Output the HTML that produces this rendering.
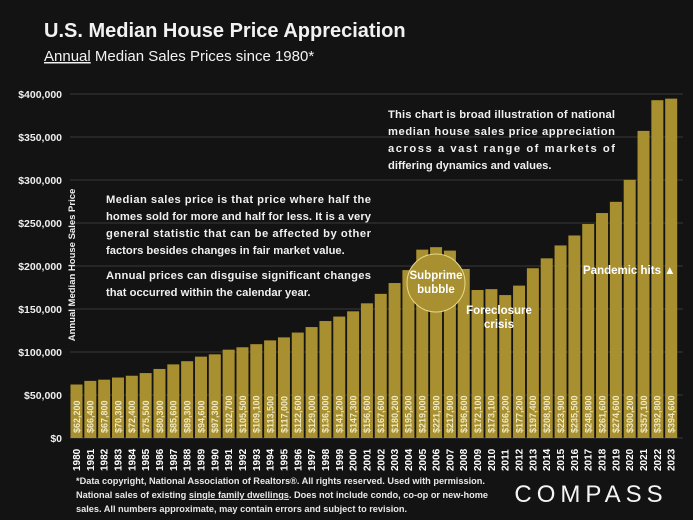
<!DOCTYPE html>
<html><head><meta charset="utf-8"><style>
body{margin:0;background:#141313;}
svg{display:block;font-family:"Liberation Sans",sans-serif;}
</style></head><body>
<svg id="c" width="693" height="520" viewBox="0 0 693 520">
<rect width="693" height="520" fill="#141313"/>
<text x="44" y="37" fill="#f2f2f2" font-size="20" font-weight="bold">U.S. Median House Price Appreciation</text>
<text x="44" y="61" fill="#f2f2f2" font-size="15"><tspan text-decoration="underline">Annual</tspan> Median Sales Prices since 1980*</text>
<g id="grid"></g>
<g id="bars"></g>
<text transform="translate(75,265) rotate(-90)" text-anchor="middle" fill="#eee" font-size="9.5" font-weight="bold">Annual Median House Sales Price</text>
<g fill="#f0f0f0" font-size="11.2" font-weight="bold">
<text x="106" y="203" textLength="265">Median sales price is that price where half the</text>
<text x="106" y="220" textLength="265">homes sold for more and half for less. It is a very</text>
<text x="106" y="237" textLength="265">general statistic that can be affected by other</text>
<text x="106" y="254">factors besides changes in fair market value.</text>
<text x="106" y="279" textLength="265">Annual prices can disguise significant changes</text>
<text x="106" y="296">that occurred within the calendar year.</text>
</g>
<g fill="#f0f0f0" font-size="11.2" font-weight="bold">
<text x="388" y="118" textLength="227">This chart is broad illustration of national</text>
<text x="388" y="135" textLength="227">median house sales price appreciation</text>
<text x="388" y="152" textLength="227">across a vast range of markets of</text>
<text x="388" y="169">differing dynamics and values.</text>
</g>
<circle cx="436" cy="283" r="29" fill="#a89030" stroke="#e8d98a" stroke-width="1"/>
<text x="436" y="279" text-anchor="middle" fill="#fff" font-size="11.5" font-weight="bold">Subprime</text>
<text x="436" y="293" text-anchor="middle" fill="#fff" font-size="11.5" font-weight="bold">bubble</text>
<text x="499" y="314" text-anchor="middle" fill="#fff" font-size="11.5" font-weight="bold">Foreclosure</text>
<text x="499" y="328" text-anchor="middle" fill="#fff" font-size="11.5" font-weight="bold">crisis</text>
<text x="583" y="274" fill="#fff" font-size="11.5" font-weight="bold">Pandemic hits ▲</text>
<g fill="#e8e8e8" font-size="9.2" font-weight="bold">
<text x="76" y="484">*Data copyright, National Association of Realtors®. All rights reserved. Used with permission.</text>
<text x="76" y="498">National sales of existing <tspan text-decoration="underline">single family dwellings</tspan>. Does not include condo, co-op or new-home</text>
<text x="76" y="512">sales. All numbers approximate, may contain errors and subject to revision.</text>
</g>
<text x="591" y="502" text-anchor="middle" fill="#f4f4f4" font-size="24" letter-spacing="5">COMPASS</text>
</svg>
<script>
const years=[1980,1981,1982,1983,1984,1985,1986,1987,1988,1989,1990,1991,1992,1993,1994,1995,1996,1997,1998,1999,2000,2001,2002,2003,2004,2005,2006,2007,2008,2009,2010,2011,2012,2013,2014,2015,2016,2017,2018,2019,2020,2021,2022,2023];
const prices=[62200,66400,67800,70300,72400,75500,80300,85600,89300,94600,97300,102700,105500,109100,113500,117000,122600,129000,136000,141200,147300,156600,167600,180200,195200,219000,221900,217900,196600,172100,173100,166200,177200,197400,208900,223900,235500,248800,261600,274600,300200,357100,392800,394600];
const ticks=[0,50000,100000,150000,200000,250000,300000,350000,400000];
const NS="http://www.w3.org/2000/svg";
const y0=438,y1=94,vmax=400000,x0=76.5,step=13.83,bw=12;
const yS=v=>y0-(v/vmax)*(y0-y1);
const xS=i=>x0+i*step;
const g=document.getElementById('grid'),b=document.getElementById('bars');
function mk(t,a,p){const e=document.createElementNS(NS,t);for(const k in a)e.setAttribute(k,a[k]);p.appendChild(e);return e;}
ticks.forEach(t=>{
  const l=mk('line',{x1:70,x2:683,y1:yS(t),y2:yS(t),stroke:'#3a3a3a','stroke-width':1},g);
  
  
  const tx=mk('text',{x:62,y:yS(t)+4,'text-anchor':'end',fill:'#eee','font-size':10.5,'font-weight':'bold'},g);
  tx.textContent='$'+t.toLocaleString('en-US');
  
  
});
prices.forEach((v,i)=>{
  const cx=xS(i);
  const r=mk('rect',{x:cx-bw/2,y:yS(v),width:bw,height:y0-yS(v),fill:'#a89030'},b);
  
  
  const vt=mk('text',{transform:`translate(${cx+3.3},${y0-5}) rotate(-90)`,fill:'#f0e8c0','font-size':9,'font-weight':'bold'},b);
  vt.textContent='$'+v.toLocaleString('en-US');
  
  
  const yt=mk('text',{transform:`translate(${cx+3.5},${471}) rotate(-90)`,fill:'#fff','font-size':10,'font-weight':'bold'},b);
  yt.textContent=years[i];
  
  
});
</script>
</body></html>
